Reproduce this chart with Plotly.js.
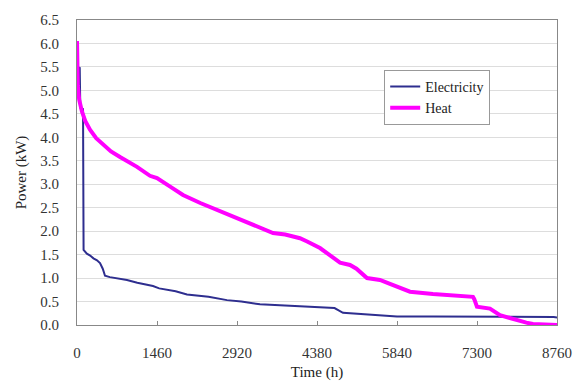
<!DOCTYPE html>
<html>
<head>
<meta charset="utf-8">
<script src="https://cdn.plot.ly/plotly-3.0.1.min.js"></script>
<style>html,body{margin:0;padding:0;background:#fff;}#chart{width:576px;height:381px;}</style>
</head>
<body>
<div id="chart"></div>
<script>
// Electricity load duration curve (hours, kW)
const elecHours = [0, 50, 60, 110, 120, 180, 240, 300, 365, 420, 470, 511, 600, 912, 1100, 1387, 1500, 1800, 2007, 2400, 2737, 3000, 3339, 3700, 4069, 4300, 4500, 4700, 4854, 5100, 5500, 5839, 6500, 7300, 8000, 8700, 8760];
const elecVals  = [5.5, 5.48, 4.63, 4.6, 1.6, 1.52, 1.48, 1.42, 1.38, 1.32, 1.2, 1.05, 1.02, 0.96, 0.9, 0.83, 0.78, 0.72, 0.65, 0.6, 0.53, 0.5, 0.44, 0.42, 0.4, 0.38, 0.37, 0.36, 0.26, 0.24, 0.2, 0.18, 0.18, 0.18, 0.18, 0.17, 0.16];

// Heat load duration curve (hours, kW)
const heatHours = [0, 15, 40, 90, 150, 237, 350, 475, 620, 785, 950, 1095, 1332, 1460, 1700, 1934, 2250, 2555, 2850, 3157, 3400, 3577, 3800, 3942, 4069, 4200, 4434, 4600, 4800, 4982, 5100, 5292, 5529, 5700, 5839, 6077, 6496, 6900, 7226, 7250, 7299, 7536, 7719, 7900, 8029, 8200, 8321, 8500, 8760];
const heatVals  = [6.05, 5.1, 4.8, 4.55, 4.35, 4.16, 3.98, 3.84, 3.7, 3.58, 3.47, 3.37, 3.18, 3.13, 2.95, 2.77, 2.6, 2.45, 2.3, 2.17, 2.05, 1.96, 1.93, 1.88, 1.85, 1.78, 1.64, 1.5, 1.33, 1.28, 1.2, 1.0, 0.96, 0.88, 0.82, 0.71, 0.66, 0.63, 0.6, 0.55, 0.39, 0.35, 0.21, 0.15, 0.1, 0.05, 0.02, 0.01, 0.0];

const xTicks = [0, 1460, 2920, 4380, 5840, 7300, 8760];
const yTicks = [0, 0.5, 1, 1.5, 2, 2.5, 3, 3.5, 4, 4.5, 5, 5.5, 6, 6.5];
const yTickText = yTicks.map(v => v.toFixed(1));

const serif = 'Liberation Serif';

const traces = [
  {
    x: elecHours, y: elecVals, name: 'Electricity', type: 'scatter', mode: 'lines',
    line: {color: '#2e2e8f', width: 2}
  },
  {
    x: heatHours, y: heatVals, name: 'Heat', type: 'scatter', mode: 'lines',
    line: {color: '#ff00ff', width: 4}
  }
];

const layout = {
  width: 576, height: 381,
  margin: {l: 77, r: 19, t: 20, b: 56},
  paper_bgcolor: '#ffffff', plot_bgcolor: '#ffffff',
  font: {family: serif},
  showlegend: true,
  legend: {
    x: 0.64, y: 0.836, xanchor: 'left', yanchor: 'top',
    bgcolor: '#ffffff', bordercolor: '#999999', borderwidth: 1,
    font: {family: serif, size: 14, color: '#222222'}
  },
  xaxis: {
    range: [0, 8760], tickvals: xTicks, ticktext: xTicks.map(String),
    ticks: 'inside', ticklen: 4, tickcolor: '#888888',
    showgrid: false, zeroline: false,
    showline: true, linecolor: '#888888', linewidth: 1, mirror: true,
    ticklabelstandoff: 14,
    tickfont: {family: serif, size: 15, color: '#333333'},
    title: {text: 'Time (h)', font: {family: serif, size: 15, color: '#222222'}, standoff: 6}
  },
  yaxis: {
    range: [0, 6.5], tickvals: yTicks, ticktext: yTickText,
    ticks: '',
    showgrid: true, gridcolor: '#dddddd', gridwidth: 1, zeroline: false,
    showline: true, linecolor: '#888888', linewidth: 1, mirror: true,
    ticklabelstandoff: 14,
    tickfont: {family: serif, size: 15, color: '#333333'},
    title: {text: 'Power (kW)', font: {family: serif, size: 15, color: '#222222'}, standoff: 10}
  }
};

Plotly.newPlot('chart', traces, layout, {displayModeBar: false, staticPlot: true}).then(gd => {
  gd.querySelectorAll('text').forEach(t => { t.style.fontFamily = '"Liberation Serif", serif'; });
});
</script>
</body>
</html>
